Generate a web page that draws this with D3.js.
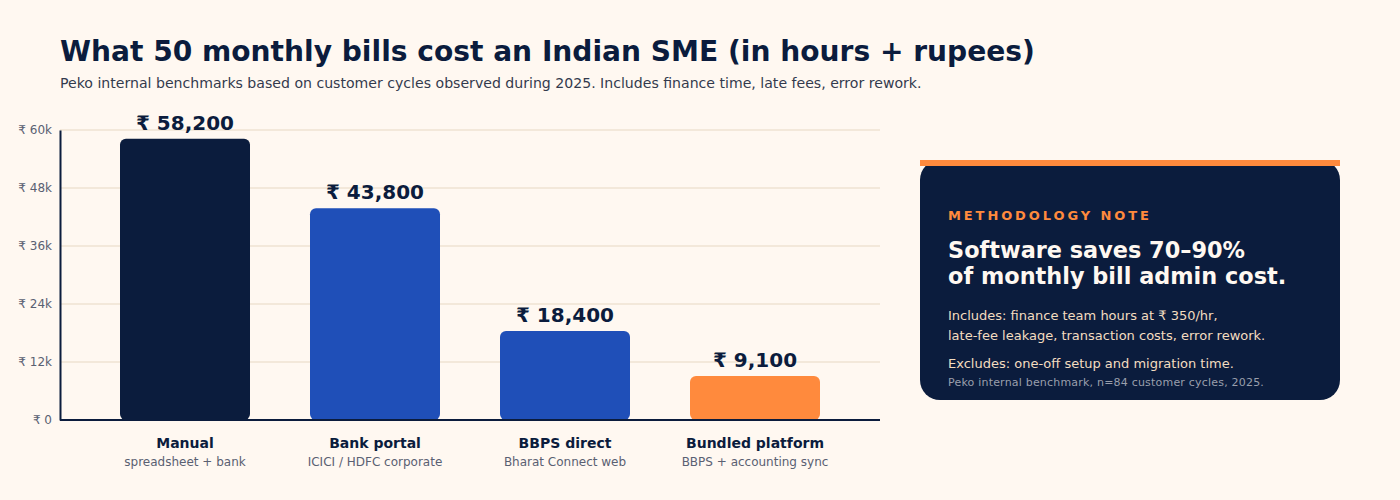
<!DOCTYPE html>
<html>
<head>
<meta charset="utf-8">
<script src="https://cdn.jsdelivr.net/npm/d3@7"></script>
<style>
  body { margin: 0; background: #fff8f1; }
  svg { display: block; font-family: "DejaVu Sans", sans-serif; }
</style>
</head>
<body>
<svg id="chart"></svg>
<script>
// data
const categories = ["Manual", "Bank portal", "BBPS direct", "Bundled platform"];
const subLabels = ["spreadsheet + bank", "ICICI / HDFC corporate", "Bharat Connect web", "BBPS + accounting sync"];
const costs = [58200, 43800, 18400, 9100];
const barColors = ["#0b1c3d", "#1f4fb8", "#1f4fb8", "#ff8a3d"];
const yTicks = [0, 12000, 24000, 36000, 48000, 60000];
const yTickLabels = ["₹ 0", "₹ 12k", "₹ 24k", "₹ 36k", "₹ 48k", "₹ 60k"];

const width = 1400, height = 500;
const margin = {top: 130, right: 520, bottom: 80, left: 60};

const svg = d3.select("#chart")
  .attr("width", width)
  .attr("height", height);

svg.append("rect").attr("width", width).attr("height", height).attr("fill", "#fff8f1");

// title + subtitle
svg.append("text")
  .attr("x", 60).attr("y", 61)
  .attr("font-size", 28.1).attr("font-weight", "bold").attr("fill", "#0b1c3d")
  .text("What 50 monthly bills cost an Indian SME (in hours + rupees)");
svg.append("text")
  .attr("x", 60).attr("y", 88)
  .attr("font-size", 14.1).attr("fill", "#333a4d")
  .text("Peko internal benchmarks based on customer cycles observed during 2025. Includes finance time, late fees, error rework.");

// scales
const x = d3.scaleBand()
  .domain(categories)
  .range([margin.left, width - margin.right])
  .padding(60 / 190);
const y = d3.scaleLinear()
  .domain([0, 60000])
  .range([height - margin.bottom, margin.top]);

// gridlines
svg.append("g")
  .selectAll("line")
  .data(yTicks.slice(1))
  .join("line")
  .attr("x1", margin.left).attr("x2", width - margin.right)
  .attr("y1", d => y(d)).attr("y2", d => y(d))
  .attr("stroke", "#f3e8da").attr("stroke-width", 2);

// y axis
const yAxis = svg.append("g")
  .attr("transform", "translate(" + margin.left + ",0)")
  .call(d3.axisLeft(y).tickValues(yTicks).tickSize(0).tickPadding(8)
    .tickFormat((d, i) => yTickLabels[i]));
yAxis.select(".domain").attr("stroke", "#0b1c3d").attr("stroke-width", 2);
yAxis.selectAll("text").attr("font-size", 12).attr("fill", "#5a6072")
  .attr("font-family", "DejaVu Sans, sans-serif");

// bars
svg.append("g")
  .selectAll("rect")
  .data(costs)
  .join("rect")
  .attr("x", (d, i) => x(categories[i]))
  .attr("y", d => y(d))
  .attr("width", x.bandwidth())
  .attr("height", d => y(0) - y(d))
  .attr("rx", 6)
  .attr("fill", (d, i) => barColors[i]);

// x axis baseline
svg.append("line")
  .attr("x1", margin.left).attr("x2", width - margin.right)
  .attr("y1", y(0)).attr("y2", y(0))
  .attr("stroke", "#0b1c3d").attr("stroke-width", 2);

// value labels
svg.append("g")
  .selectAll("text")
  .data(costs)
  .join("text")
  .attr("x", (d, i) => x(categories[i]) + x.bandwidth() / 2)
  .attr("y", d => y(d) - 9)
  .attr("text-anchor", "middle")
  .attr("font-size", 20).attr("font-weight", "bold").attr("fill", "#0b1c3d")
  .text(d => "₹ " + d3.format(",")(d));

// category labels
const cat = svg.append("g")
  .selectAll("g")
  .data(categories)
  .join("g")
  .attr("transform", d => "translate(" + (x(d) + x.bandwidth() / 2) + "," + y(0) + ")");
cat.append("text")
  .attr("y", 28).attr("text-anchor", "middle")
  .attr("font-size", 14).attr("font-weight", "bold").attr("fill", "#0b1c3d")
  .text(d => d);
cat.append("text")
  .attr("y", 46).attr("text-anchor", "middle")
  .attr("font-size", 12).attr("fill", "#5a6072")
  .text((d, i) => subLabels[i]);

// methodology panel
const panel = svg.append("g").attr("transform", "translate(920,160)");
panel.append("rect")
  .attr("x", 0).attr("y", 0).attr("width", 420).attr("height", 240)
  .attr("rx", 20).attr("fill", "#0b1c3d");
panel.append("rect")
  .attr("x", 0).attr("y", 0).attr("width", 420).attr("height", 6)
  .attr("fill", "#ff8a3d");
panel.append("text")
  .attr("x", 28).attr("y", 60)
  .attr("font-size", 13).attr("font-weight", "bold").attr("letter-spacing", 2.9)
  .attr("fill", "#ff8a3d")
  .text("METHODOLOGY NOTE");
panel.append("text")
  .attr("x", 28).attr("y", 98)
  .attr("font-size", 22.4).attr("font-weight", "bold").attr("fill", "#fff8f1")
  .text("Software saves 70–90%");
panel.append("text")
  .attr("x", 28).attr("y", 124)
  .attr("font-size", 22.4).attr("font-weight", "bold").attr("fill", "#fff8f1")
  .text("of monthly bill admin cost.");
panel.append("text")
  .attr("x", 28).attr("y", 160)
  .attr("font-size", 13).attr("fill", "#f3dcc0")
  .text("Includes: finance team hours at ₹ 350/hr,");
panel.append("text")
  .attr("x", 28).attr("y", 180)
  .attr("font-size", 13).attr("fill", "#f3dcc0")
  .text("late-fee leakage, transaction costs, error rework.");
panel.append("text")
  .attr("x", 28).attr("y", 208)
  .attr("font-size", 13).attr("fill", "#f3dcc0")
  .text("Excludes: one-off setup and migration time.");
panel.append("text")
  .attr("x", 28).attr("y", 226)
  .attr("font-size", 11).attr("letter-spacing", 0.2).attr("fill", "#9a9fac")
  .text("Peko internal benchmark, n=84 customer cycles, 2025.");
</script>
</body>
</html>
